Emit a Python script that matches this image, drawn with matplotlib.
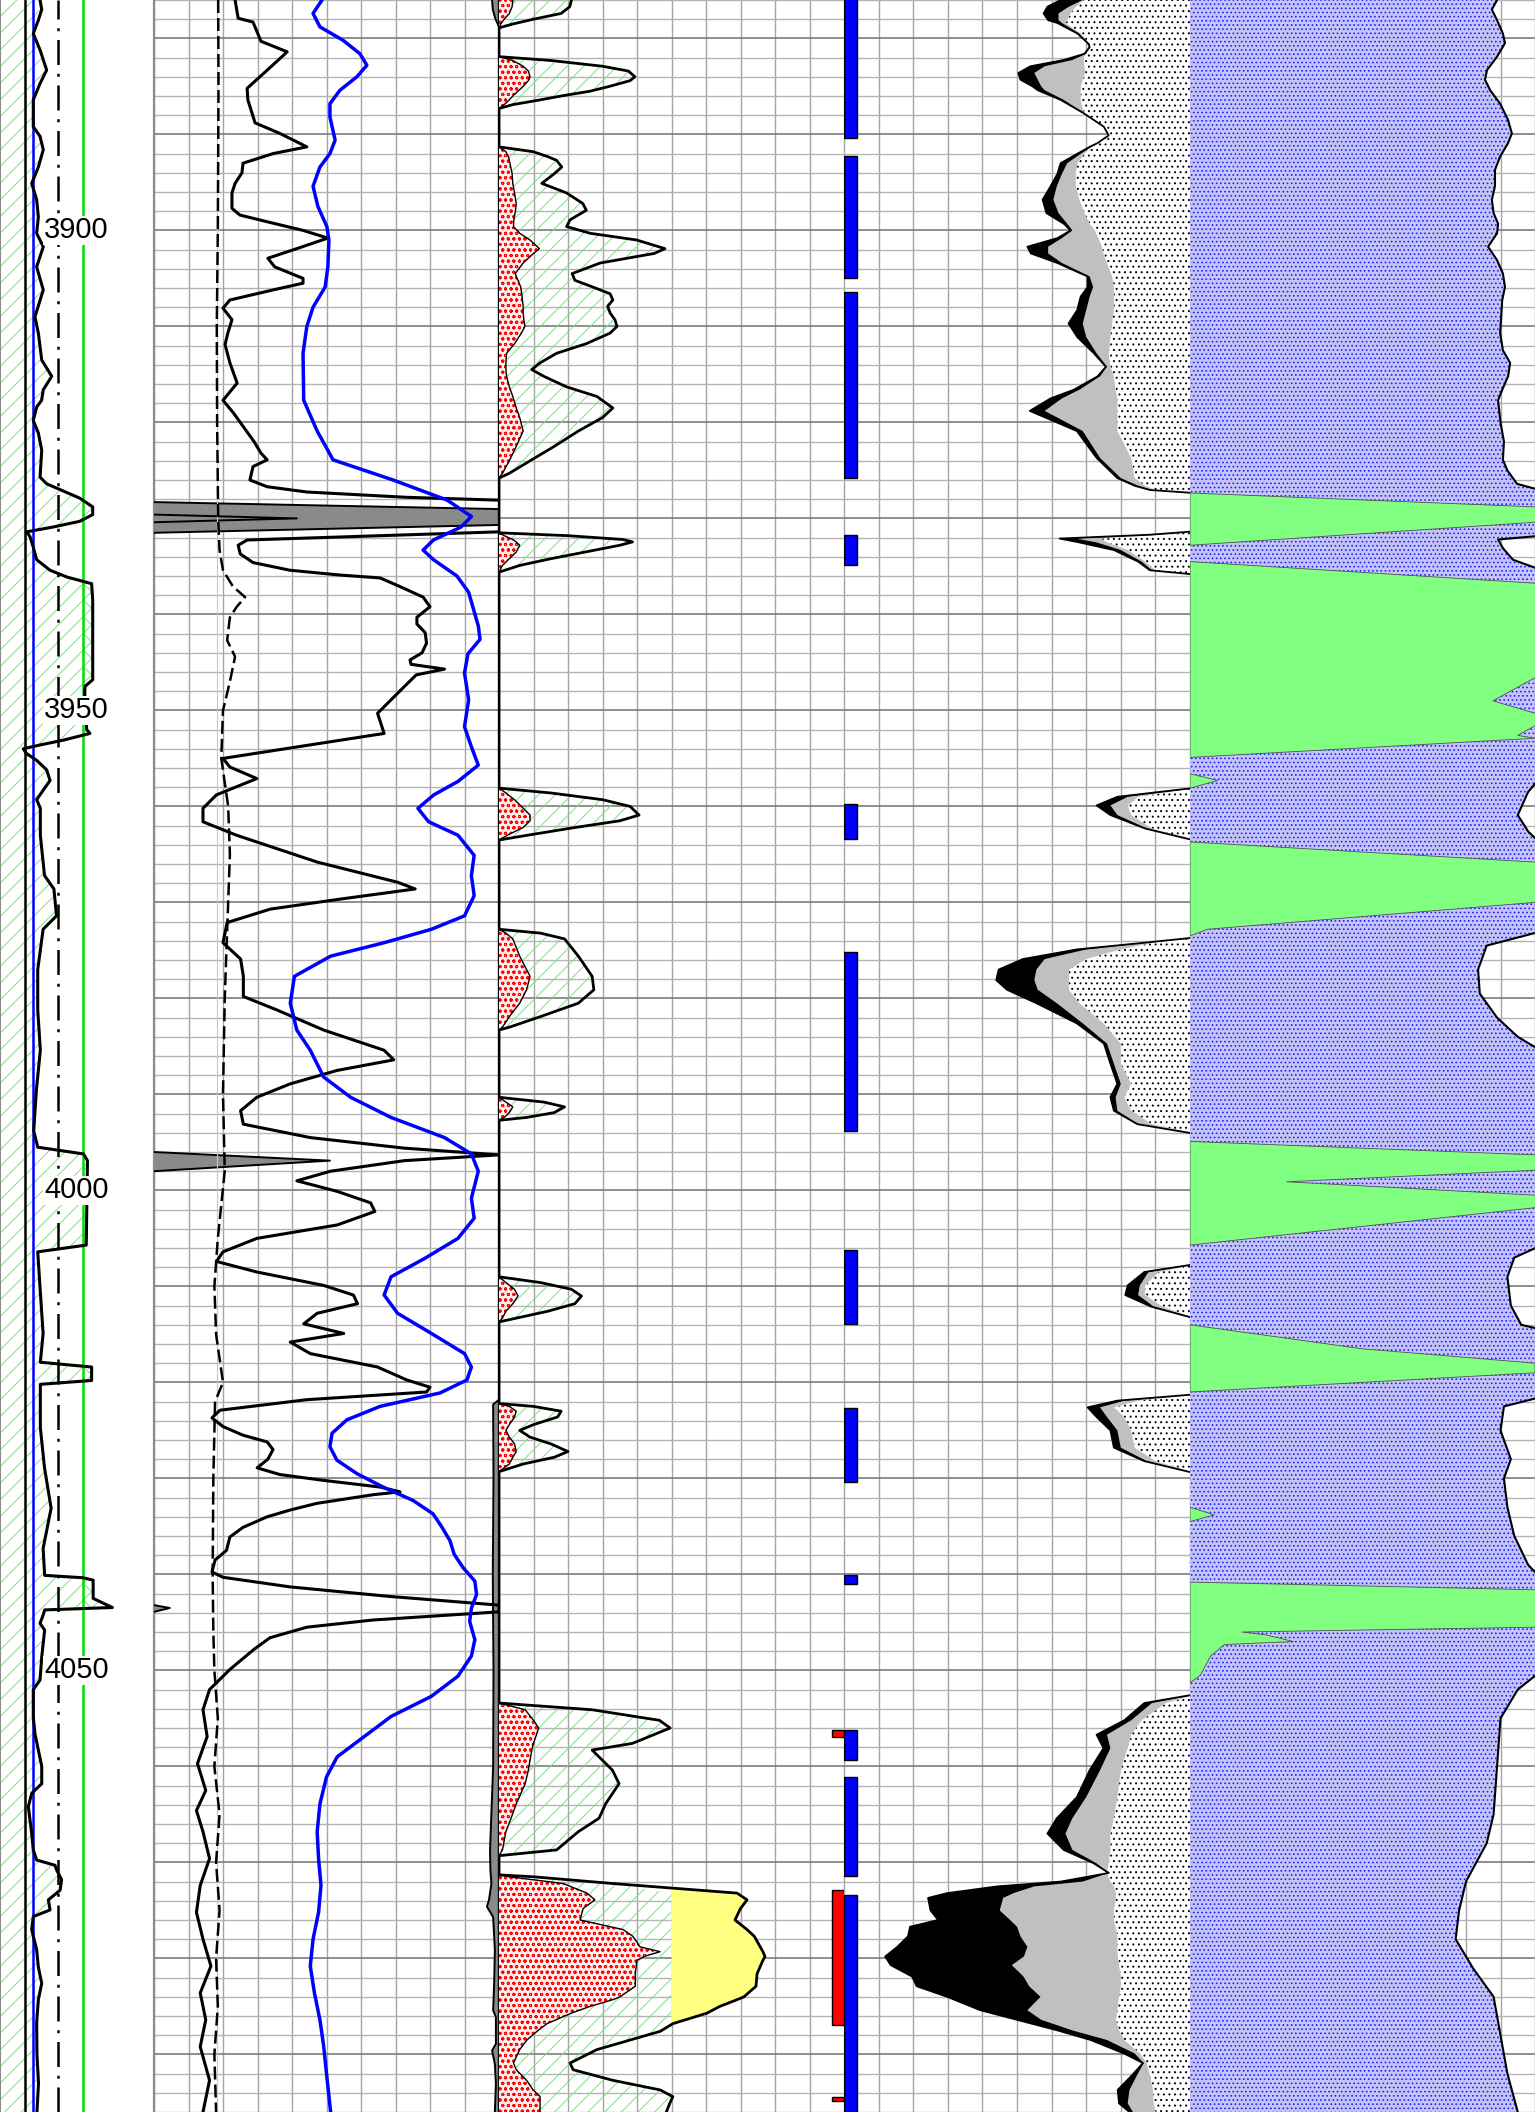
import numpy as np
import matplotlib.pyplot as plt

plt.rcParams['font.family'] = ['Liberation Sans', 'DejaVu Sans']
plt.rcParams['hatch.linewidth'] = 0.7
plt.rcParams['lines.solid_joinstyle'] = 'round'
plt.rcParams['lines.solid_capstyle'] = 'round'

top_depth, base_depth = 3876.0, 4096.0
depth_labels = [3900, 3950, 4000, 4050]

# ---- track 1 : SP style curve (track units 0..10) ----
sp = np.array([
    (3876.0, 2.60), (3877.0, 2.71), (3878.1, 2.49), (3879.5, 2.16), (3881.2, 2.60),
    (3883.3, 3.03), (3884.7, 2.60), (3886.4, 2.16), (3889.2, 2.16), (3890.2, 2.60),
    (3891.6, 2.81), (3893.4, 2.49), (3895.1, 2.06), (3896.8, 2.38), (3898.6, 2.49),
    (3900.3, 2.38), (3901.7, 2.81), (3903.8, 2.38), (3906.2, 2.81), (3909.0, 2.27),
    (3910.7, 2.49), (3913.5, 2.71), (3915.2, 3.36), (3916.6, 2.81), (3917.7, 2.70),
    (3918.4, 2.38), (3919.8, 2.16), (3921.1, 2.49), (3922.9, 2.71), (3925.7, 2.60),
    (3926.4, 3.03), (3927.0, 3.90), (3927.9, 5.19), (3928.8, 6.02), (3929.6, 6.02),
    (3930.3, 5.19), (3930.9, 3.44), (3931.4, 1.73), (3931.9, 1.95), (3933.0, 2.16),
    (3934.3, 2.38), (3935.4, 3.25), (3936.1, 4.33), (3936.8, 5.95), (3938.5, 6.02),
    (3946.8, 6.02), (3947.5, 5.52), (3948.2, 5.50), (3952.0, 5.63), (3952.4, 5.84),
    (3953.1, 4.11), (3953.6, 2.60), (3954.0, 1.51), (3954.5, 1.73), (3955.2, 2.38),
    (3956.2, 3.03), (3957.3, 3.25), (3958.3, 2.81), (3959.3, 2.38), (3960.2, 2.62),
    (3963.0, 2.62), (3967.2, 2.89), (3968.6, 3.50), (3971.4, 3.67), (3972.8, 2.80),
    (3977.0, 2.45), (3981.2, 2.45), (3985.4, 2.62), (3989.6, 2.36), (3993.8, 2.19),
    (3995.5, 2.45), (3996.2, 5.42), (3996.9, 5.68), (4005.7, 5.60), (4006.4, 2.45),
    (4010.6, 2.62), (4014.9, 2.80), (4017.9, 2.62), (4018.4, 5.95), (4019.8, 5.95),
    (4020.2, 2.62), (4024.7, 2.62), (4028.9, 2.89), (4033.1, 3.32), (4037.3, 2.80),
    (4040.1, 2.90), (4040.35, 5.40), (4040.6, 6.05), (4042.5, 6.05), (4043.45, 7.30),
    (4043.7, 2.90), (4044.2, 2.81), (4045.1, 2.60), (4045.8, 2.90), (4048.6, 2.71),
    (4051.0, 2.60), (4052.0, 2.16), (4054.8, 2.16), (4056.6, 2.27), (4060.0, 2.71),
    (4061.8, 2.71), (4062.8, 2.06), (4064.2, 1.84), (4065.6, 1.95), (4067.0, 2.06),
    (4068.7, 2.16), (4069.75, 2.38), (4070.3, 3.57), (4070.8, 3.68), (4071.8, 4.00),
    (4072.9, 3.90), (4073.9, 3.14), (4074.95, 3.25), (4075.65, 2.16), (4077.0, 2.06),
    (4079.1, 2.38), (4080.9, 2.49), (4082.6, 2.71), (4084.3, 2.49), (4086.7, 2.38),
    (4090.0, 2.40), (4093.0, 2.50), (4096.0, 2.40),
])
sp_baseline = 1.62
sp_blue_line = 2.16
sp_dashdot = 3.79
sp_cutoff = 5.41

# ---- track 2 ----
res = np.array([
    (3876.0, 2.35), (3877.9, 2.44), (3878.3, 2.87), (3879.5, 3.01), (3880.3, 3.10),
    (3881.4, 3.86), (3882.1, 3.65), (3885.2, 2.70), (3886.4, 2.72), (3888.8, 2.93),
    (3889.9, 3.65), (3891.3, 4.43), (3892.0, 3.45), (3893.0, 2.58), (3894.0, 2.55),
    (3895.1, 2.35), (3896.1, 2.26), (3897.7, 2.26), (3898.4, 2.49), (3899.1, 3.28),
    (3900.0, 4.32), (3900.8, 5.04), (3901.9, 4.14), (3902.9, 3.30), (3903.8, 3.50),
    (3905.0, 4.32), (3905.5, 4.32), (3906.2, 3.45), (3907.25, 2.20), (3908.1, 2.00),
    (3909.3, 2.26), (3910.7, 2.14), (3911.9, 2.06), (3913.8, 2.20), (3915.9, 2.41),
    (3917.7, 2.00), (3919.0, 2.30), (3920.5, 2.60), (3922.0, 2.90), (3923.2, 3.10),
    (3923.9, 3.28), (3924.6, 2.87), (3926.0, 2.78), (3926.7, 3.28), (3927.25, 4.43),
    (3927.8, 7.30), (3928.1, 10.0), (3928.3, 12.0), (3931.2, 12.0), (3931.4, 10.0),
    (3932.25, 2.70), (3932.8, 2.44), (3933.7, 2.50), (3934.6, 2.87), (3935.4, 3.94),
    (3935.9, 5.39), (3936.2, 6.55), (3937.1, 7.13), (3938.2, 7.80), (3939.2, 8.00),
    (3940.3, 7.62), (3941.0, 7.62), (3941.9, 7.86), (3943.0, 7.90), (3944.0, 7.77),
    (3944.75, 7.42), (3945.2, 7.45), (3945.7, 8.42), (3946.3, 7.60), (3947.5, 7.26),
    (3950.3, 6.48), (3952.4, 6.67), (3955.0, 2.00), (3955.9, 2.20), (3957.1, 2.98),
    (3958.8, 1.81), (3960.2, 1.42), (3961.6, 1.42), (3963.0, 2.39), (3965.8, 4.73),
    (3967.9, 7.06), (3968.6, 7.57), (3969.7, 5.31), (3970.7, 3.37), (3972.1, 2.12),
    (3974.2, 2.00), (3975.9, 2.51), (3977.7, 2.59), (3979.8, 2.59), (3981.2, 3.56),
    (3983.3, 4.92), (3985.4, 6.67), (3986.4, 6.95), (3987.5, 5.31), (3988.9, 3.95),
    (3990.3, 2.98), (3991.7, 2.51), (3993.1, 2.59), (3994.5, 4.53), (3995.6, 7.26),
    (3996.3, 10.0), (3996.9, 7.26), (3998.0, 5.12), (3999.0, 4.14), (4000.1, 5.31),
    (4001.3, 6.28), (4002.2, 6.40), (4003.6, 5.31), (4005.0, 2.98), (4006.4, 2.00),
    (4007.4, 1.81), (4008.5, 2.98), (4009.9, 4.92), (4010.9, 5.78), (4011.8, 5.90),
    (4012.8, 4.73), (4013.9, 4.34), (4014.9, 5.50), (4015.8, 3.95), (4017.0, 4.53),
    (4018.4, 6.48), (4019.75, 7.33), (4020.5, 8.00), (4021.0, 7.90), (4021.8, 4.43),
    (4022.9, 1.91), (4023.7, 1.68), (4024.6, 2.00), (4025.5, 2.58), (4026.2, 3.28),
    (4027.0, 3.45), (4028.0, 3.30), (4028.9, 2.99), (4029.6, 3.65), (4030.2, 4.90),
    (4030.9, 6.55), (4031.4, 7.13), (4031.7, 6.35), (4032.6, 4.72), (4033.3, 3.94),
    (4034.0, 3.28), (4035.1, 2.58), (4036.1, 2.20), (4037.5, 2.10), (4038.5, 1.77),
    (4039.75, 1.68), (4040.3, 2.00), (4041.3, 3.94), (4042.3, 6.84), (4043.2, 10.0),
    (4043.9, 10.0), (4044.75, 6.35), (4045.5, 4.43), (4046.6, 3.36), (4047.8, 2.90),
    (4049.9, 2.20), (4052.0, 1.61), (4054.1, 1.42), (4056.9, 1.54), (4059.7, 1.26),
    (4062.5, 1.50), (4064.6, 1.23), (4066.8, 1.42), (4069.6, 1.61), (4072.4, 1.34),
    (4075.2, 1.23), (4078.0, 1.42), (4080.8, 1.65), (4083.6, 1.34), (4086.4, 1.50),
    (4089.2, 1.34), (4092.7, 1.61), (4096.0, 1.42),
])
dashed = np.array([
    (3876.0, 1.86), (3885.0, 1.87), (3900.0, 1.85), (3910.0, 1.82), (3920.0, 1.83),
    (3930.0, 1.86), (3933.3, 1.90), (3935.4, 2.00), (3937.1, 2.29), (3938.2, 2.64),
    (3939.2, 2.40), (3940.3, 2.20), (3942.7, 2.12), (3944.4, 2.35), (3947.0, 2.20),
    (3950.0, 2.00), (3955.0, 1.95), (3960.0, 2.15), (3965.0, 2.20), (3970.0, 2.15),
    (3975.0, 2.10), (3980.0, 2.05), (3990.0, 2.00), (3998.0, 2.05), (4005.0, 1.85),
    (4010.0, 1.75), (4015.0, 1.80), (4020.0, 2.00), (4022.0, 1.77), (4030.0, 1.72),
    (4040.0, 1.70), (4046.0, 1.72), (4050.0, 1.75), (4055.0, 1.85), (4060.0, 1.75),
    (4065.0, 1.90), (4070.0, 1.80), (4075.0, 1.90), (4080.0, 1.80), (4085.0, 1.85),
    (4090.0, 1.75), (4096.0, 1.80),
])
light_green_line = 1.82
blue2 = np.array([
    (3876.0, 4.87), (3877.4, 4.61), (3878.8, 4.81), (3880.2, 5.48), (3881.6, 5.97),
    (3882.8, 6.17), (3884.0, 5.88), (3885.4, 5.39), (3886.8, 5.10), (3888.2, 5.10),
    (3890.6, 5.25), (3892.0, 5.10), (3893.4, 4.81), (3895.4, 4.61), (3897.5, 4.75),
    (3899.6, 5.01), (3901.0, 5.07), (3903.8, 5.04), (3905.9, 4.96), (3908.0, 4.61),
    (3910.0, 4.43), (3912.8, 4.32), (3917.7, 4.34), (3920.9, 4.73), (3923.9, 5.19),
    (3926.0, 6.93), (3928.1, 8.50), (3929.8, 9.20), (3930.9, 8.90), (3932.25, 8.10),
    (3933.3, 7.80), (3934.3, 8.10), (3936.0, 8.78), (3937.7, 9.12), (3941.2, 9.40),
    (3942.6, 9.45), (3944.1, 9.10), (3946.1, 9.00), (3948.9, 9.12), (3951.7, 9.00),
    (3953.8, 9.20), (3955.7, 9.40), (3957.4, 8.81), (3958.8, 8.11), (3960.2, 7.65),
    (3961.6, 7.96), (3963.0, 8.81), (3965.1, 9.28), (3967.2, 9.20), (3969.3, 9.28),
    (3971.4, 9.00), (3972.8, 8.04), (3974.2, 6.67), (3975.6, 5.12), (3977.7, 4.07),
    (3980.5, 3.95), (3983.3, 4.14), (3985.4, 4.53), (3988.2, 4.92), (3990.3, 5.70),
    (3992.4, 6.87), (3994.5, 8.42), (3996.2, 9.20), (3998.0, 9.40), (4000.8, 9.20),
    (4002.9, 9.28), (4005.0, 8.81), (4007.1, 7.84), (4009.0, 6.87), (4010.9, 6.67),
    (4012.8, 7.06), (4014.9, 8.04), (4017.0, 9.00), (4018.4, 9.20), (4019.75, 9.07),
    (4021.1, 8.29), (4022.5, 6.55), (4023.9, 5.59), (4025.3, 5.16), (4026.7, 5.10),
    (4028.1, 5.30), (4029.5, 5.88), (4030.9, 6.64), (4032.3, 7.51), (4033.7, 8.09),
    (4035.1, 8.35), (4036.5, 8.58), (4037.9, 8.70), (4039.3, 8.96), (4040.7, 9.30),
    (4042.1, 9.35), (4043.5, 9.20), (4044.9, 9.15), (4046.8, 9.30), (4048.5, 9.20),
    (4050.6, 8.81), (4052.7, 8.04), (4054.8, 6.87), (4056.9, 6.09), (4059.0, 5.31),
    (4061.1, 5.00), (4063.9, 4.81), (4066.8, 4.73), (4069.6, 4.77), (4072.4, 4.84),
    (4075.2, 4.77), (4078.0, 4.61), (4080.8, 4.53), (4083.6, 4.65), (4086.4, 4.81),
    (4089.2, 4.92), (4092.0, 5.00), (4096.0, 5.12),
])
spike = np.array([
    (3876.0, -0.3), (3928.2, -0.3), (3928.3, 0.0), (3929.1, 11.0), (3930.6, 11.0),
    (3931.5, 0.0), (3931.6, -0.3), (3995.9, -0.3), (3996.0, 0.0), (3996.9, 5.1),
    (3998.0, 0.0), (3998.1, -0.3), (4043.1, -0.3), (4043.2, 0.0), (4043.5, 0.46),
    (4043.9, 0.0), (4044.0, -0.3), (4096.0, -0.3),
])
spike_inner = np.array([
    (3929.5, -0.3), (3929.6, 0.0), (3930.0, 4.14), (3930.4, 0.0), (3930.5, -0.3),
])
cali = np.array([
    (3876.0, 9.80), (3877.0, 9.82), (3878.0, 9.90), (3878.8, 10.0), (4021.8, 10.0),
    (4022.3, 9.83), (4030.0, 9.84), (4040.0, 9.82), (4050.0, 9.84), (4060.0, 9.83),
    (4068.7, 9.74), (4070.8, 9.75), (4072.2, 9.78), (4073.9, 9.71), (4074.6, 9.65),
    (4075.7, 9.83), (4079.1, 9.88), (4082.6, 9.86), (4085.4, 9.83), (4086.1, 9.91),
    (4088.9, 9.91), (4089.6, 9.80), (4091.0, 9.88), (4093.1, 9.91), (4096.0, 9.88),
])
bit_size = 10.0

# ---- track 3 : depth, inner (red) curve, outer (green/yellow) curve ----
t3 = np.array([
    (3876.0, 0.40, 2.10), (3876.7, 0.38, 2.05), (3877.4, 0.30, 1.80), (3878.0, 0.15, 1.00),
    (3878.5, 0.05, 0.40), (3878.9, 0.0, 0.0),
    (3881.9, 0.0, 0.0), (3882.3, 0.40, 1.50), (3882.9, 0.70, 3.00), (3883.4, 0.85, 3.75),
    (3884.0, 0.90, 3.94), (3884.4, 0.85, 3.80), (3885.0, 0.70, 3.20), (3885.5, 0.55, 2.64),
    (3886.0, 0.40, 1.80), (3886.4, 0.30, 1.20), (3886.9, 0.15, 0.40), (3887.3, 0.0, 0.0),
    (3891.3, 0.0, 0.0), (3891.8, 0.20, 0.99), (3892.3, 0.27, 1.40), (3892.7, 0.30, 1.67),
    (3893.4, 0.34, 1.82), (3894.1, 0.38, 1.60), (3895.1, 0.40, 1.24), (3896.1, 0.45, 1.96),
    (3897.2, 0.50, 2.43), (3897.9, 0.48, 2.53), (3898.9, 0.43, 2.06), (3899.6, 0.42, 1.96),
    (3900.3, 0.60, 2.64), (3901.0, 0.90, 3.99), (3901.9, 1.17, 4.81), (3902.4, 1.00, 4.50),
    (3903.4, 0.70, 2.93), (3904.5, 0.47, 2.12), (3905.2, 0.55, 2.20), (3905.9, 0.63, 2.72),
    (3906.6, 0.66, 3.22), (3907.25, 0.68, 3.30), (3907.9, 0.70, 3.15), (3908.6, 0.70, 3.22),
    (3909.3, 0.72, 3.36), (3910.0, 0.75, 3.42), (3910.7, 0.65, 3.22), (3911.8, 0.45, 2.53),
    (3912.8, 0.22, 1.67), (3913.8, 0.20, 1.19), (3914.5, 0.20, 0.95), (3915.2, 0.22, 1.30),
    (3916.3, 0.30, 1.96), (3917.3, 0.40, 2.84), (3918.5, 0.50, 3.30), (3919.5, 0.60, 3.00),
    (3920.9, 0.70, 2.30), (3922.5, 0.50, 1.60), (3924.0, 0.30, 0.90), (3925.3, 0.10, 0.30),
    (3925.8, 0.0, 0.0),
    (3931.5, 0.0, 0.0), (3931.8, 0.15, 2.00), (3932.2, 0.40, 3.60), (3932.45, 0.50, 3.87),
    (3932.8, 0.60, 3.50), (3933.5, 0.50, 2.50), (3934.2, 0.30, 1.50), (3934.9, 0.10, 0.60),
    (3935.6, 0.0, 0.0),
    (3958.1, 0.0, 0.0), (3958.6, 0.20, 1.50), (3959.3, 0.45, 3.00), (3960.0, 0.65, 3.80),
    (3960.9, 0.90, 4.06), (3961.5, 0.90, 3.50), (3962.2, 0.70, 2.20), (3962.9, 0.30, 1.00),
    (3963.5, 0.0, 0.0),
    (3972.8, 0.0, 0.0), (3973.2, 0.20, 1.20), (3973.8, 0.40, 1.90), (3975.6, 0.60, 2.30),
    (3977.7, 0.90, 2.70), (3979.1, 0.80, 2.75), (3980.5, 0.60, 2.30), (3981.9, 0.30, 1.20),
    (3983.0, 0.10, 0.30), (3983.3, 0.0, 0.0),
    (3990.3, 0.0, 0.0), (3990.8, 0.20, 1.30), (3991.3, 0.40, 1.90), (3991.9, 0.30, 1.60),
    (3992.4, 0.15, 0.80), (3992.7, 0.0, 0.0),
    (4009.0, 0.0, 0.0), (4009.6, 0.20, 1.20), (4010.3, 0.45, 2.10), (4011.0, 0.55, 2.39),
    (4011.8, 0.40, 2.20), (4012.6, 0.20, 1.40), (4013.3, 0.10, 0.50), (4013.7, 0.0, 0.0),
    (4022.2, 0.0, 0.0), (4022.5, 0.30, 1.00), (4023.0, 0.50, 1.80), (4023.6, 0.45, 1.70),
    (4024.4, 0.30, 1.00), (4025.0, 0.20, 0.60), (4025.7, 0.30, 0.90), (4026.4, 0.45, 1.50),
    (4027.2, 0.50, 2.00), (4027.8, 0.40, 1.60), (4028.5, 0.30, 0.70), (4029.3, 0.0, 0.0),
    (4053.4, 0.0, 0.0), (4054.1, 0.76, 2.70), (4055.2, 1.00, 4.65), (4056.0, 1.15, 4.96),
    (4057.6, 1.00, 3.87), (4058.3, 0.95, 2.70), (4060.4, 0.85, 3.29), (4061.8, 0.76, 3.48),
    (4063.9, 0.50, 3.09), (4065.4, 0.35, 2.90), (4066.8, 0.20, 2.30), (4068.7, 0.10, 1.67),
    (4069.3, 0.0, 0.0),
    (4071.3, 0.0, 0.0), (4071.5, 0.30, 1.00), (4072.2, 1.86, 3.30), (4073.2, 2.55, 6.90),
    (4073.9, 2.78, 7.19), (4074.8, 2.44, 7.00), (4076.0, 2.35, 6.84), (4077.0, 3.60, 7.19),
    (4077.7, 3.88, 7.40), (4078.8, 4.09, 7.57), (4079.3, 4.67, 7.65), (4079.8, 4.20, 7.71),
    (4080.2, 4.00, 7.65), (4081.6, 3.95, 7.48), (4082.9, 3.95, 7.45), (4084.0, 3.51, 7.10),
    (4084.3, 3.30, 6.90), (4085.0, 2.64, 6.40), (4085.7, 2.10, 6.03), (4086.8, 1.39, 5.04),
    (4087.6, 1.10, 4.67), (4088.5, 0.81, 3.80), (4089.5, 0.60, 2.84), (4090.9, 0.42, 2.06),
    (4091.6, 0.50, 2.15), (4092.7, 0.80, 3.30), (4093.7, 0.99, 4.67), (4094.4, 1.19, 5.04),
    (4095.1, 1.19, 4.95), (4096.0, 1.19, 4.85),
])
yellow_cut = 5.0

# flags on the track 3 / track 4 boundary
blue_top = [3875.0, 3892.3, 3906.4, 3931.7, 3959.7, 3975.2, 4006.2, 4022.7, 4040.1, 4056.2, 4061.1, 4073.4]
blue_base = [3890.4, 3905.0, 3925.8, 3934.9, 3963.4, 3993.8, 4013.9, 4030.4, 4041.0, 4059.3, 4071.4, 4097.0]
red_top = [4056.2, 4072.9, 4094.4]
red_base = [4056.9, 4086.9, 4094.9]

# ---- track 4 : depth, P (black line), Q (black fill edge), R (grey edge) ----
t4 = np.array([
    (3876.0, 6.26, 6.90, 6.93), (3876.7, 5.88, 6.50, 6.70), (3877.4, 5.77, 6.20, 6.55),
    (3878.1, 5.90, 6.20, 6.45), (3878.4, 6.17, 6.30, 6.40), (3879.5, 6.75, 6.80, 6.85),
    (3880.5, 7.05, 7.05, 7.00), (3880.9, 7.10, 7.10, 7.00), (3881.6, 6.95, 7.00, 6.95),
    (3882.25, 6.35, 6.60, 6.93), (3882.9, 5.39, 5.80, 6.95), (3883.6, 5.04, 5.50, 6.97),
    (3884.3, 5.10, 5.60, 6.90), (3885.0, 5.45, 5.70, 6.85), (3885.4, 5.60, 5.80, 6.84),
    (3886.4, 6.26, 6.35, 6.84), (3887.8, 6.93, 6.95, 6.93), (3889.2, 7.51, 7.51, 7.30),
    (3890.1, 7.65, 7.65, 7.40), (3890.9, 7.33, 7.33, 7.20), (3891.3, 7.10, 7.15, 7.13),
    (3892.0, 6.75, 6.85, 6.95), (3893.0, 6.26, 6.45, 6.75), (3894.1, 6.17, 6.30, 6.70),
    (3895.4, 5.97, 6.15, 6.70), (3896.8, 5.74, 6.05, 6.80), (3898.2, 5.85, 6.20, 6.95),
    (3899.3, 6.35, 6.45, 7.10), (3900.0, 6.55, 6.60, 7.25), (3900.8, 6.17, 6.30, 7.35),
    (3901.7, 5.30, 5.90, 7.45), (3902.4, 5.40, 5.90, 7.50), (3903.4, 6.17, 6.30, 7.60),
    (3904.8, 7.04, 7.10, 7.75), (3905.9, 7.04, 7.20, 7.80), (3906.9, 6.84, 7.10, 7.80),
    (3908.3, 6.74, 7.00, 7.80), (3909.7, 6.49, 6.90, 7.75), (3911.1, 6.74, 7.00, 7.70),
    (3912.8, 7.22, 7.30, 7.65), (3914.2, 7.57, 7.60, 7.70), (3915.2, 7.33, 7.40, 7.80),
    (3916.6, 6.64, 6.80, 7.85), (3917.5, 5.97, 6.30, 7.90), (3918.8, 5.37, 5.80, 7.90),
    (3920.9, 6.73, 6.90, 7.90), (3923.7, 7.30, 7.40, 8.30), (3925.8, 7.90, 8.00, 8.40),
    (3926.6, 8.40, 8.50, 8.70), (3927.04, 8.84, 8.90, 9.00), (3927.4, 10.3, 10.3, 10.3),
    (3931.3, 10.3, 10.3, 10.3), (3931.7, 8.84, 9.00, 9.20), (3932.1, 6.23, 6.70, 7.40),
    (3932.5, 6.80, 7.30, 7.60), (3933.3, 7.80, 8.00, 8.20), (3934.5, 8.50, 8.60, 8.70),
    (3935.4, 8.84, 8.90, 9.00), (3935.9, 10.3, 10.3, 10.3),
    (3958.0, 10.3, 10.3, 10.3), (3959.0, 7.90, 8.20, 8.50), (3959.9, 7.30, 7.70, 8.20),
    (3960.9, 7.70, 7.90, 8.30), (3962.3, 8.70, 8.75, 8.90), (3963.7, 10.3, 10.3, 10.3),
    (3973.6, 10.3, 10.3, 10.3), (3974.2, 8.68, 8.75, 8.90), (3974.9, 6.73, 7.00, 8.00),
    (3975.9, 5.17, 5.80, 7.00), (3977.0, 4.47, 5.56, 6.50), (3978.1, 4.40, 5.50, 6.50),
    (3979.1, 4.71, 5.60, 6.50), (3980.5, 5.56, 6.15, 6.80), (3982.6, 6.73, 6.90, 7.50),
    (3984.7, 7.51, 7.60, 8.00), (3986.8, 7.70, 7.80, 8.00), (3988.9, 7.90, 8.00, 8.30),
    (3990.3, 7.70, 7.85, 8.10), (3991.7, 7.80, 7.90, 8.30), (3993.1, 8.48, 8.50, 8.90),
    (3994.2, 10.3, 10.3, 10.3),
    (4007.6, 10.3, 10.3, 10.3), (4008.5, 8.68, 8.80, 9.10), (4009.9, 8.20, 8.55, 8.70),
    (4010.9, 8.13, 8.50, 8.70), (4012.1, 8.87, 8.95, 9.20), (4013.5, 10.3, 10.3, 10.3),
    (4021.2, 10.3, 10.3, 10.3), (4021.9, 7.90, 8.10, 8.50), (4022.6, 7.04, 7.40, 7.80),
    (4023.6, 7.30, 7.60, 8.10), (4025.0, 7.70, 7.90, 8.30), (4026.8, 7.80, 8.00, 8.40),
    (4028.2, 8.68, 8.75, 9.00), (4029.6, 10.3, 10.3, 10.3),
    (4052.4, 10.3, 10.3, 10.3), (4053.4, 8.68, 8.90, 9.30), (4055.2, 8.10, 8.30, 8.60),
    (4056.7, 7.30, 7.60, 8.30), (4058.1, 7.50, 7.70, 8.20), (4060.4, 7.10, 7.40, 8.00),
    (4063.2, 6.73, 7.00, 7.90), (4065.4, 6.15, 6.60, 7.80), (4067.0, 5.88, 6.40, 7.70),
    (4068.7, 6.35, 6.60, 7.70), (4070.1, 7.22, 7.30, 7.65), (4071.1, 7.65, 7.65, 7.60),
    (4072.0, 6.26, 6.90, 7.70), (4072.5, 4.43, 5.50, 7.80), (4073.2, 2.98, 4.90, 7.86),
    (4073.7, 2.43, 4.60, 7.86), (4075.0, 2.50, 4.50, 7.80), (4076.0, 2.72, 4.80, 7.80),
    (4076.7, 1.91, 5.00, 7.85), (4077.7, 1.85, 5.10, 7.90), (4078.8, 1.54, 5.30, 7.90),
    (4079.8, 1.19, 5.20, 7.91), (4080.7, 1.35, 4.85, 7.95), (4081.9, 1.97, 5.19, 8.00),
    (4082.9, 2.10, 5.35, 8.00), (4084.0, 2.98, 5.68, 7.95), (4085.4, 3.94, 5.30, 7.90),
    (4086.4, 5.00, 5.70, 7.86), (4087.5, 6.17, 6.60, 7.95), (4088.5, 7.13, 7.60, 8.10),
    (4089.9, 8.09, 8.40, 8.55), (4090.9, 8.64, 8.66, 8.75), (4092.3, 8.29, 8.45, 8.85),
    (4093.7, 7.91, 8.25, 8.93), (4095.1, 7.95, 8.20, 8.95), (4096.0, 8.25, 8.35, 9.00),
])

# ---- track 5 : blue dotted curve and green spikes ----
s5 = np.array([
    (3876.0, 8.90), (3877.0, 8.75), (3878.1, 8.90), (3879.5, 9.07), (3880.5, 9.13),
    (3881.9, 8.90), (3883.3, 8.61), (3884.3, 8.55), (3885.4, 8.70), (3886.8, 8.99),
    (3888.5, 9.22), (3889.9, 9.33), (3890.9, 9.22), (3892.3, 8.99), (3893.7, 8.84),
    (3895.4, 8.84), (3896.8, 8.75), (3898.2, 8.80), (3899.3, 8.93), (3900.3, 8.90),
    (3901.7, 8.64), (3903.1, 8.90), (3904.5, 9.07), (3905.9, 9.13), (3907.25, 9.05),
    (3909.0, 9.02), (3910.7, 8.99), (3912.5, 9.07), (3913.8, 9.28), (3915.2, 9.22),
    (3916.6, 9.05), (3917.7, 8.93), (3920.0, 9.00), (3922.0, 9.10), (3923.9, 9.07),
    (3925.0, 9.20), (3926.4, 9.48), (3927.1, 10.2), (3931.8, 10.2), (3932.2, 8.93),
    (3933.1, 9.07), (3934.3, 9.36), (3935.4, 10.2), (3956.8, 10.2), (3958.5, 9.80),
    (3960.9, 9.50), (3962.6, 9.80), (3964.0, 10.2), (3973.0, 10.2), (3974.5, 8.60),
    (3977.0, 8.35), (3979.5, 8.40), (3982.0, 8.90), (3984.0, 9.50), (3985.5, 10.2),
    (4005.7, 10.2), (4007.0, 9.40), (4009.0, 9.20), (4012.0, 9.30), (4014.0, 9.60),
    (4014.5, 10.2), (4021.5, 10.2), (4022.5, 9.10), (4025.0, 9.00), (4028.0, 9.30),
    (4030.0, 9.10), (4033.0, 9.20), (4036.0, 9.40), (4039.0, 9.80), (4040.5, 10.2),
    (4050.0, 10.2), (4052.0, 9.50), (4055.0, 9.00), (4060.0, 8.90), (4065.0, 8.80),
    (4068.0, 8.60), (4072.0, 8.00), (4075.0, 7.80), (4078.0, 7.70), (4081.0, 8.20),
    (4084.0, 8.80), (4088.0, 9.00), (4092.0, 9.20), (4096.0, 9.50),
])
g5 = np.array([
    (3876.0, 0.0), (3927.35, 0.0), (3928.8, 10.0), (3929.5, 11.0), (3930.4, 10.0),
    (3932.8, 0.0), (3934.5, 0.0), (3936.75, 10.0), (3937.5, 11.0), (3946.0, 11.0),
    (3946.6, 10.0), (3949.0, 8.78), (3950.3, 10.0), (3951.0, 10.5), (3951.6, 10.0),
    (3952.6, 9.50), (3952.9, 10.0), (3954.9, 0.0), (3956.6, 0.0), (3957.3, 0.80),
    (3958.1, 0.0), (3963.7, 0.0), (3965.8, 10.0), (3966.5, 11.0), (3969.3, 11.0),
    (3970.0, 10.0), (3972.8, 0.50), (3973.5, 0.0), (3994.9, 0.0), (3996.3, 10.0),
    (3997.0, 11.0), (3997.9, 10.0), (3999.1, 2.80), (4000.5, 10.0), (4001.2, 11.0),
    (4001.8, 10.0), (4005.7, 0.0), (4014.0, 0.0), (4016.5, 5.0), (4018.0, 10.0),
    (4019.0, 10.0), (4021.0, 0.0), (4033.0, 0.0), (4033.8, 0.70), (4034.5, 0.0),
    (4040.8, 0.0), (4041.6, 10.0), (4042.5, 11.0), (4044.0, 11.0), (4045.5, 10.0),
    (4046.0, 1.50), (4046.3, 2.20), (4047.0, 3.00), (4047.3, 1.00), (4048.5, 0.60),
    (4050.5, 0.30), (4051.3, 0.0), (4096.0, 0.0),
])

# ---------------------------------------------------------------------------
hatch_green = '#7fdf7f'
grid_minor = '#b4b4b4'
grid_major = '#7c7c7c'
grid_vert = '#a4a4a4'

W, H = 1535, 2112
fig = plt.figure(figsize=(W / 100, H / 100), dpi=100)
fig.patch.set_facecolor('white')


def make_track(x0, width, grid=True):
    ax = fig.add_axes([x0 / W, 0, width / W, 1])
    ax.set_xlim(0, 10)
    ax.set_ylim(base_depth, top_depth)
    for s in ax.spines.values():
        s.set_visible(False)
    ax.tick_params(which='both', length=0, labelbottom=False, labelleft=False)
    if grid:
        ax.set_xticks(np.arange(0, 11))
        ax.set_yticks(np.arange(3880, 4100, 10))
        ax.set_yticks(np.arange(3876, 4098, 2), minor=True)
        ax.set_axisbelow(True)
        ax.grid(which='minor', axis='y', color=grid_minor, lw=1.0)
        ax.grid(which='major', axis='y', color=grid_major, lw=1.2)
        ax.grid(which='major', axis='x', color=grid_vert, lw=1.0)
    else:
        ax.set_xticks([])
        ax.set_yticks([])
    return ax


ax1 = make_track(0, 154, grid=False)
ax2 = make_track(154, 345)
ax3 = make_track(499, 345)
ax4 = make_track(844, 346)
ax5 = make_track(1190, 345)

# ---- track 1 ----
sp_d, sp_v = sp[:, 0], sp[:, 1]
ax1.fill_betweenx(sp_d, 0, sp_v, facecolor='none', edgecolor=hatch_green, hatch='//', lw=0)
ax1.fill_betweenx(sp_d, sp_cutoff, sp_v, where=sp_v > sp_cutoff, interpolate=True,
                  facecolor='none', edgecolor=hatch_green, hatch='\\\\', lw=0)
ax1.axvline(0, color='#8c8c8c', lw=1.5)
ax1.axvline(sp_baseline, color='black', lw=1.8)
ax1.axvline(sp_blue_line, color='blue', lw=1.8)
ax1.axvline(sp_dashdot, color='black', lw=1.8, ls=(0, (10, 3.5, 1.2, 3.5)))
ax1.axvline(sp_cutoff, color='#00dd00', lw=1.8)
ax1.plot(sp_v, sp_d, color='black', lw=2.2)
for d in depth_labels:
    ax1.text(4.97, d, str(d), ha='center', va='center', fontsize=21, zorder=10,
             bbox=dict(facecolor='white', edgecolor='none', pad=0.6))

# ---- track 2 ----
ax2.axvline(0, color='#8c8c8c', lw=1.6, clip_on=False, zorder=3)
sk_d, sk_v = spike[:, 0], spike[:, 1]
ax2.fill_betweenx(sk_d, 0, sk_v, where=sk_v > 0, interpolate=True, color='#8a8a8a', lw=0, zorder=2)
ax2.plot(sk_v, sk_d, color='black', lw=1.4, zorder=3)
ax2.plot(spike_inner[:, 1], spike_inner[:, 0], color='black', lw=1.4, zorder=3)
ca_d, ca_v = cali[:, 0], cali[:, 1]
ax2.fill_betweenx(ca_d, ca_v, bit_size, where=ca_v < bit_size, interpolate=True,
                  color='#8a8a8a', lw=0, zorder=2)
ax2.plot(ca_v, ca_d, color='black', lw=1.4, zorder=3)
ax2.axvline(bit_size, color='black', lw=2.4, clip_on=False, zorder=4)
ax2.axvline(light_green_line, color='#90ee90', lw=0.8, zorder=3)
ax2.plot(dashed[:, 1], dashed[:, 0], color='black', lw=1.8, ls=(0, (5.2, 2.0)), zorder=4)
ax2.plot(res[:, 1], res[:, 0], color='black', lw=2.2, zorder=5)
ax2.plot(blue2[:, 1], blue2[:, 0], color='#0000ff', lw=2.5, zorder=6)

# ---- track 3 ----
d3, a3, b3 = t3[:, 0], t3[:, 1], t3[:, 2]
b3c = np.minimum(b3, yellow_cut)
ax3.fill_betweenx(d3, 0, a3, where=a3 > 0, interpolate=True, facecolor='#fff0f0',
                  edgecolor='#ff0000', hatch='ooo', lw=0, zorder=2)
ax3.fill_betweenx(d3, a3, b3c, where=b3c > a3, interpolate=True, facecolor='none',
                  edgecolor=hatch_green, hatch='//', lw=0, zorder=2)
ax3.fill_betweenx(d3, yellow_cut, b3, where=b3 > yellow_cut, interpolate=True,
                  color='#ffff80', lw=0, zorder=2)
ax3.plot(a3, d3, color='black', lw=1.0, zorder=3)
ax3.plot(b3, d3, color='black', lw=2.0, zorder=3)
ax3.barh([(t + b) / 2 for t, b in zip(red_top, red_base)],
         [0.35] * len(red_top), left=9.65,
         height=[b - t for t, b in zip(red_top, red_base)],
         color='#ff0000', edgecolor='black', lw=1.0, zorder=5, clip_on=False)

# ---- track 4 ----
d4, p4, q4, r4 = t4[:, 0], t4[:, 1], t4[:, 2], t4[:, 3]
dot_left = np.maximum(p4, r4)
ax4.fill_betweenx(d4, dot_left, 10, where=dot_left < 10, interpolate=True,
                  facecolor='white', edgecolor='black', hatch='...', lw=0, zorder=2)
ax4.fill_betweenx(d4, p4, r4, where=r4 > p4, interpolate=True, color='#c0c0c0', lw=0, zorder=2)
ax4.fill_betweenx(d4, p4, q4, where=q4 > p4, interpolate=True, color='black', lw=0, zorder=3)
ax4.plot(p4, d4, color='black', lw=1.3, zorder=4)
ax4.barh([(t + b) / 2 for t, b in zip(blue_top, blue_base)],
         [0.377] * len(blue_top), left=0,
         height=[b - t for t, b in zip(blue_top, blue_base)],
         color='#0000ff', edgecolor='black', lw=1.0, zorder=5)

# ---- track 5 ----
ax5.fill_betweenx(s5[:, 0], 0, s5[:, 1], facecolor='#c4c4f6', edgecolor='#2020ff',
                  hatch='....', lw=0, zorder=2)
ax5.plot(s5[:, 1], s5[:, 0], color='black', lw=1.5, zorder=4)
g_d, g_v = g5[:, 0], g5[:, 1]
ax5.fill_betweenx(g_d, 0, g_v, where=g_v > 0, interpolate=True, facecolor='#80ff80',
                  edgecolor='#505050', lw=0.6, zorder=3)

fig.savefig('out.png', dpi=100)
